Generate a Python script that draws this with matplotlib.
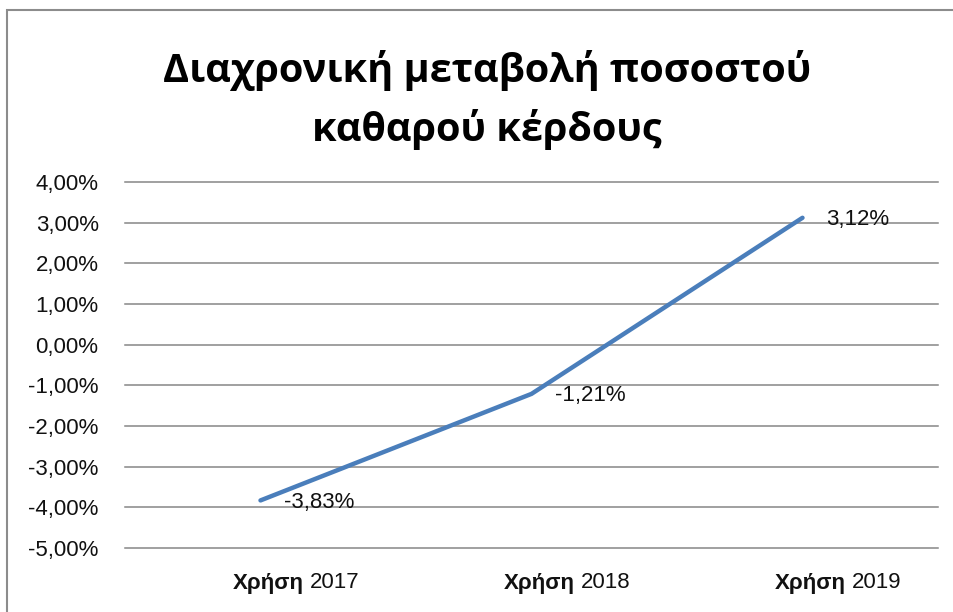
import matplotlib
matplotlib.use("Agg")
import matplotlib.pyplot as plt
from matplotlib.patches import Rectangle
from matplotlib.transforms import blended_transform_factory

# data
years = ["2017", "2018", "2019"]
prefix = "Χρήση"
values = [-3.83, -1.21, 3.12]
yticks = [4, 3, 2, 1, 0, -1, -2, -3, -4, -5]
title = "Διαχρονική μεταβολή ποσοστού\nκαθαρού κέρδους"

def pct(v):
    return ("%.2f%%" % v).replace(".", ",")

small = "Liberation Sans"
fig = plt.figure(figsize=(9.54, 6.12), dpi=100)
ax = fig.add_axes([125/954, 1-548/612, (938-125)/954, (548-182)/612])

# outer chart border (cropped on right/bottom like the reference)
fig.patches.append(Rectangle((7/954, -0.2), 1.5, 1.2 - 10/612, transform=fig.transFigure,
                             fill=False, edgecolor="#8c8c8c", linewidth=1.5))

x = list(range(len(values)))
ax.plot(x, values, color="#4a7ebb", linewidth=3.2, solid_capstyle="round", zorder=3)
for xi, v in zip(x, values):
    ax.annotate(pct(v), (xi, v), xytext=(24, -2), textcoords="offset pixels",
                ha="left", va="center", fontsize=16, family=small, color="#111111")

ax.set_xlim(-0.5, 2.5)
ax.set_ylim(-5, 4)
ax.set_yticks(yticks)
ax.set_yticklabels([pct(t) for t in yticks], fontsize=16, family=small, color="#111111")
ax.tick_params(axis="y", length=0, pad=19)
ax.set_xticks([])
ax.grid(axis="y", color="#868686", linewidth=1.1)
ax.set_axisbelow(True)
for s in ax.spines.values():
    s.set_visible(False)
for line in ax.get_ygridlines():
    line.set_clip_on(False)

trans = blended_transform_factory(ax.transData, ax.transAxes)
for xi, yr in zip(x, years):
    ax.annotate(prefix, (xi, 0), xycoords=trans, xytext=(43, -35), textcoords="offset pixels",
                ha="right", va="center", fontsize=16, family=small, fontweight="bold",
                color="#111111", annotation_clip=False)
    ax.annotate(yr, (xi, 0), xycoords=trans, xytext=(49, -35), textcoords="offset pixels",
                ha="left", va="center", fontsize=16, family=small, color="#111111",
                annotation_clip=False)

fig.text(487/954, 1-50/612, title, ha="center", va="top", fontsize=28.5,
         family="Open Sans", fontweight="bold", linespacing=1.55)

fig.savefig("out.png", dpi=100)
